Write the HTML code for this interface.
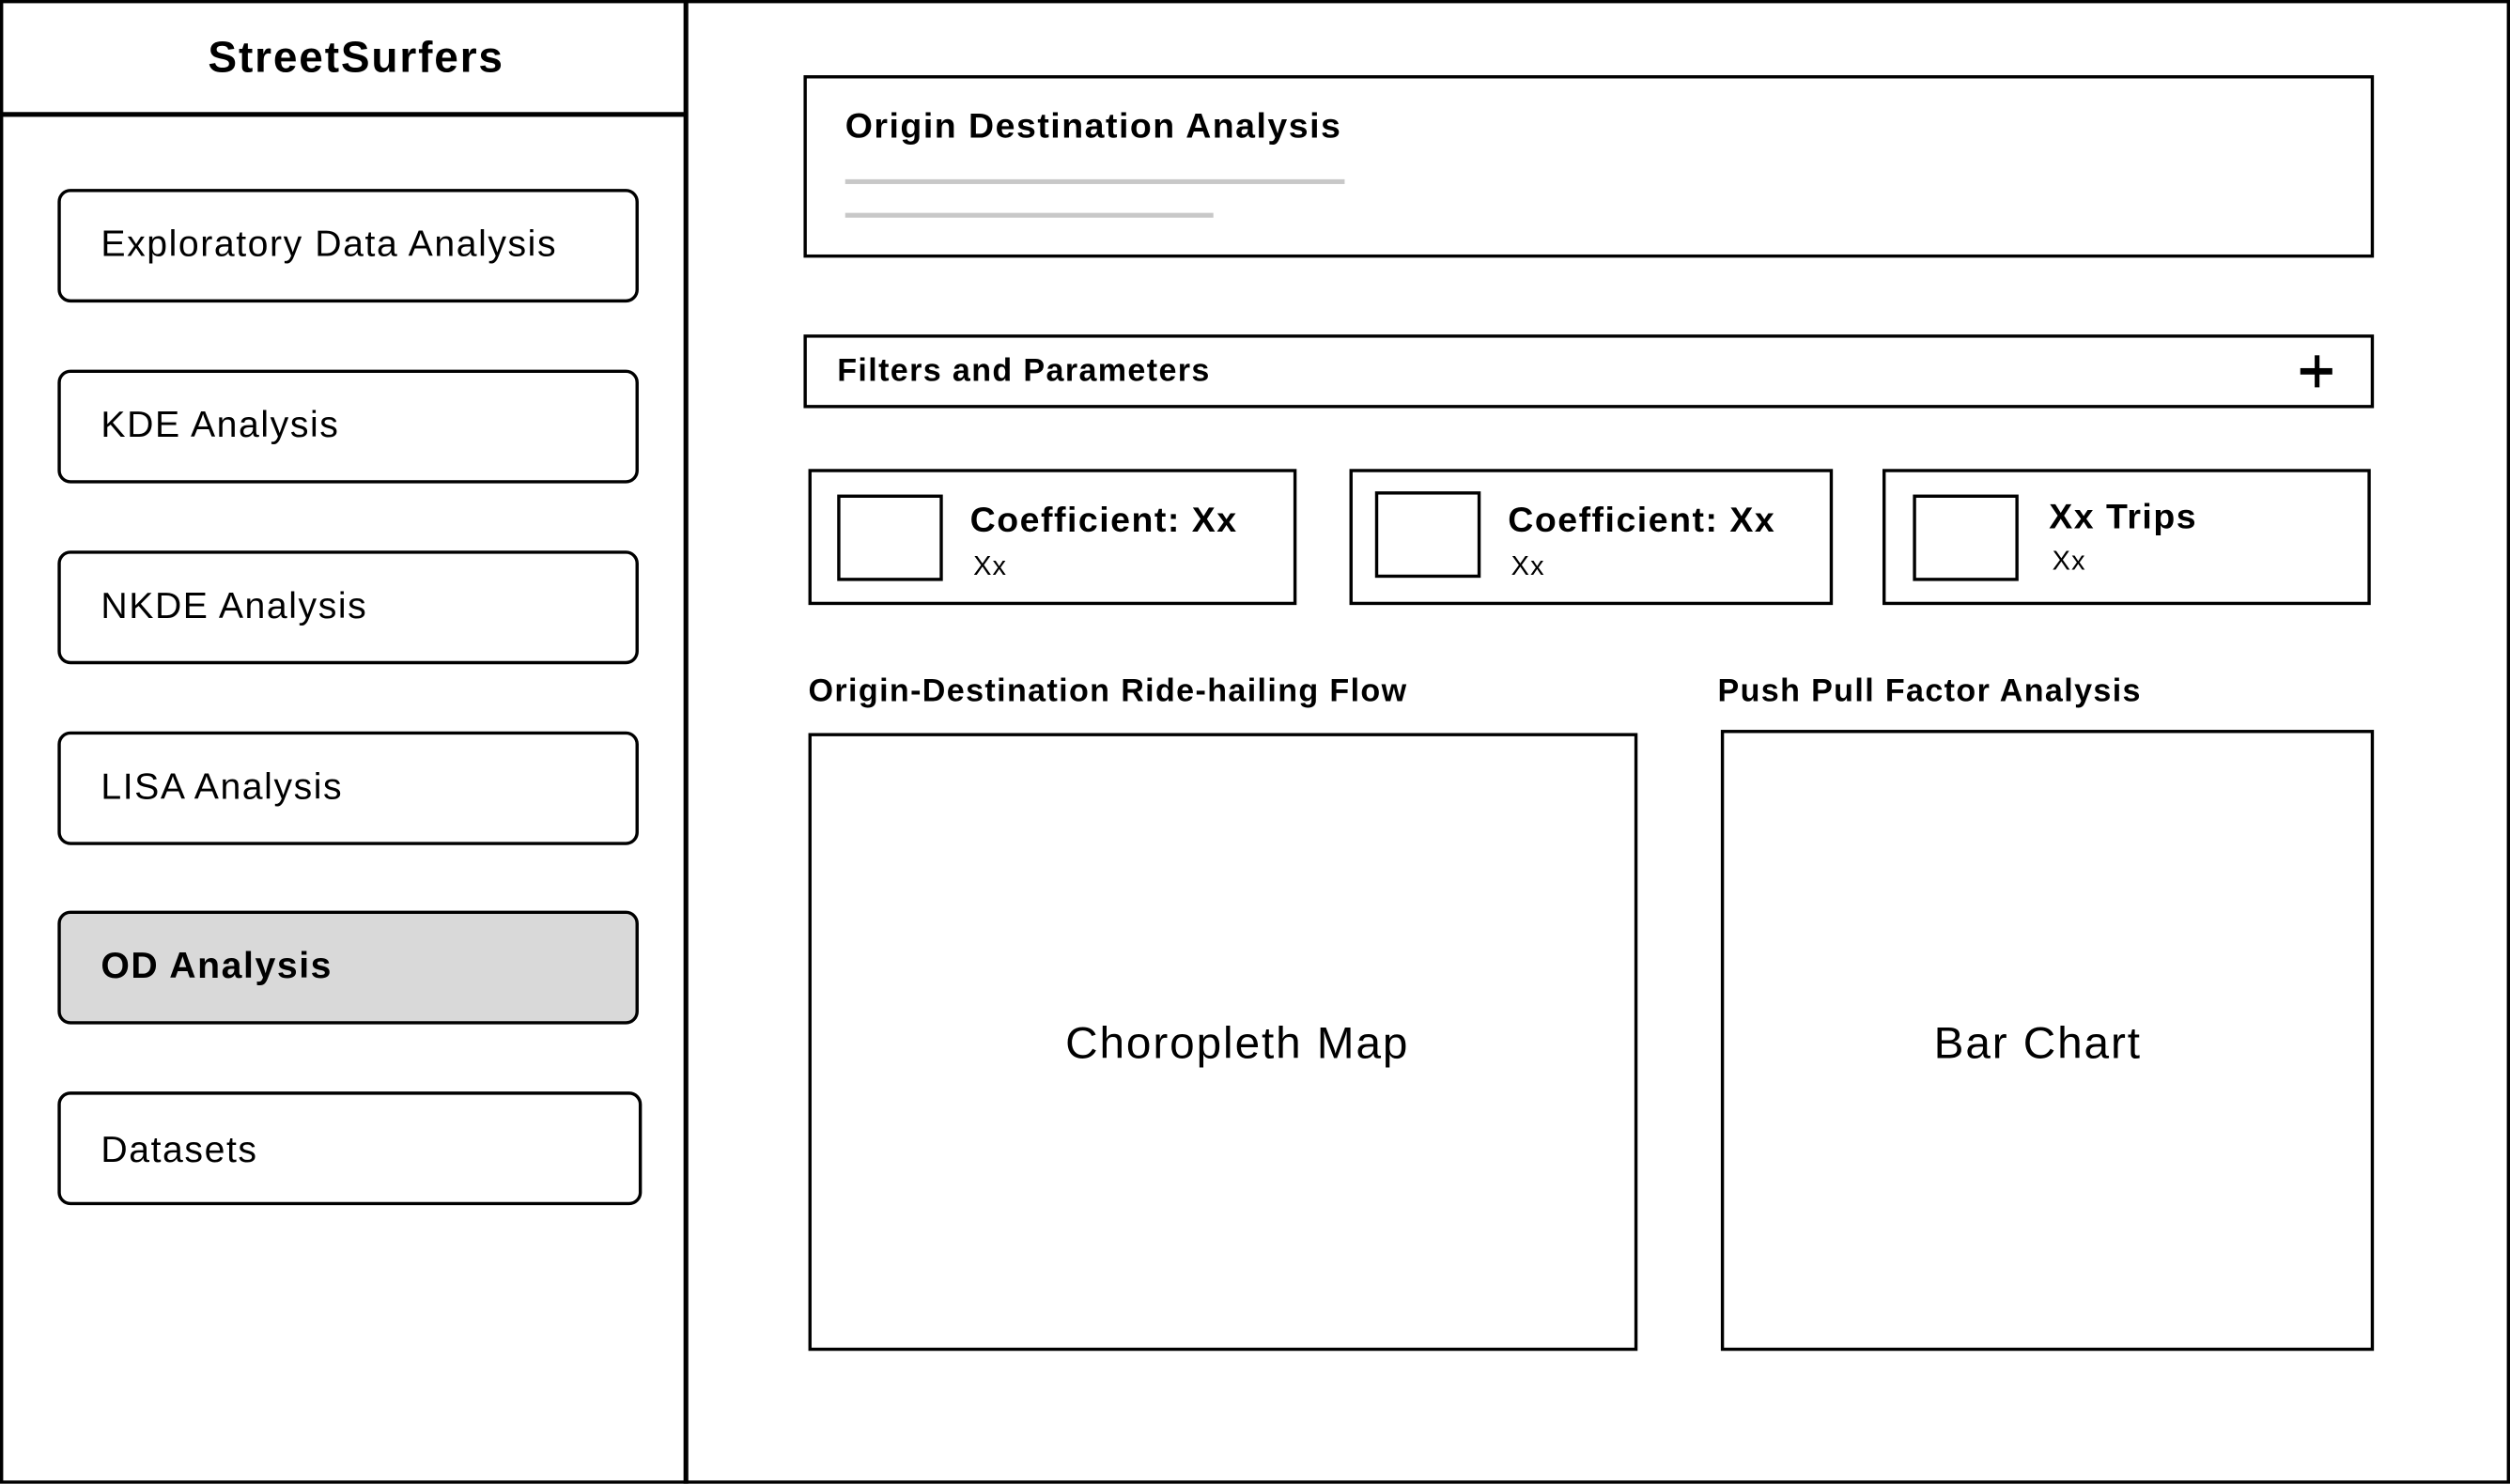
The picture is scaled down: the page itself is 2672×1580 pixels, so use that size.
<!DOCTYPE html>
<html>
<head>
<meta charset="utf-8">
<style>
html,body{margin:0;padding:0;background:#fff;}
body{width:2672px;height:1580px;overflow:hidden;position:relative;}
#w{position:absolute;left:0;top:0;width:1568px;height:927px;transform:scale(1.70408);transform-origin:0 0;font-family:"Liberation Sans",sans-serif;color:#000;}
.a{position:absolute;box-sizing:border-box;}
.b{border:2.5px solid #000;}
.nav{border:2.5px solid #000;border-radius:8px;}
.t{position:absolute;white-space:nowrap;line-height:1;letter-spacing:0.04em;}
</style>
</head>
<body>
<div id="w">
  <div class="a b" style="left:0;top:0;width:1568px;height:927px;"></div>
  <div class="a" style="left:427px;top:0;width:2.5px;height:927px;background:#000;"></div>
  <div class="a" style="left:0;top:70px;width:428px;height:2.5px;background:#000;"></div>
  <div class="t" style="left:0;width:445px;text-align:center;top:23px;font-size:27px;font-weight:bold;">StreetSurfers</div>

  <div class="a nav" style="left:36px;top:118px;width:363px;height:71px;"></div>
  <div class="t" style="left:63px;top:141px;font-size:23px;">Exploratory Data Analysis</div>
  <div class="a nav" style="left:36px;top:231px;width:363px;height:71px;"></div>
  <div class="t" style="left:63px;top:254px;font-size:23px;">KDE Analysis</div>
  <div class="a nav" style="left:36px;top:344px;width:363px;height:71px;"></div>
  <div class="t" style="left:63px;top:367px;font-size:23px;">NKDE Analysis</div>
  <div class="a nav" style="left:36px;top:457px;width:363px;height:71px;"></div>
  <div class="t" style="left:63px;top:480px;font-size:23px;">LISA Analysis</div>
  <div class="a nav" style="left:36px;top:569px;width:363px;height:71px;background:#d9d9d9;"></div>
  <div class="t" style="left:63px;top:592px;font-size:23px;font-weight:bold;">OD Analysis</div>
  <div class="a nav" style="left:36px;top:682px;width:365px;height:71px;"></div>
  <div class="t" style="left:63px;top:707px;font-size:23px;">Datasets</div>

  <div class="a b" style="left:502px;top:47px;width:981px;height:114px;"></div>
  <div class="t" style="left:528px;top:68px;font-size:22px;font-weight:bold;">Origin Destination Analysis</div>
  <div class="a" style="left:528px;top:112px;width:312px;height:2.5px;background:#c8c8c8;"></div>
  <div class="a" style="left:528px;top:133px;width:230px;height:2.5px;background:#c8c8c8;"></div>

  <div class="a b" style="left:502px;top:209px;width:981px;height:46px;"></div>
  <div class="t" style="left:523px;top:222px;font-size:20px;font-weight:bold;">Filters and Parameters</div>
  <div class="a" style="left:1437px;top:230px;width:20px;height:3.5px;background:#000;"></div>
  <div class="a" style="left:1445.5px;top:221.5px;width:3.5px;height:20px;background:#000;"></div>

  <div class="a b" style="left:505px;top:293px;width:305px;height:85px;"></div>
  <div class="a b" style="left:523px;top:309px;width:66px;height:54px;"></div>
  <div class="t" style="left:606px;top:314px;font-size:22px;font-weight:bold;">Coefficient: Xx</div>
  <div class="t" style="left:608px;top:345px;font-size:17px;">Xx</div>

  <div class="a b" style="left:843px;top:293px;width:302px;height:85px;"></div>
  <div class="a b" style="left:859px;top:307px;width:66px;height:54px;"></div>
  <div class="t" style="left:942px;top:314px;font-size:22px;font-weight:bold;">Coefficient: Xx</div>
  <div class="t" style="left:944px;top:345px;font-size:17px;">Xx</div>

  <div class="a b" style="left:1176px;top:293px;width:305px;height:85px;"></div>
  <div class="a b" style="left:1195px;top:309px;width:66px;height:54px;"></div>
  <div class="t" style="left:1280px;top:312px;font-size:22px;font-weight:bold;">Xx Trips</div>
  <div class="t" style="left:1282px;top:342px;font-size:17px;">Xx</div>

  <div class="t" style="left:505px;top:422px;font-size:20px;font-weight:bold;">Origin-Destination Ride-hailing Flow</div>
  <div class="t" style="left:1073px;top:422px;font-size:20px;font-weight:bold;">Push Pull Factor Analysis</div>

  <div class="a b" style="left:505px;top:458px;width:518px;height:386px;"></div>
  <div class="t" style="left:505px;width:536px;text-align:center;top:638px;font-size:28px;">Choropleth Map</div>
  <div class="a b" style="left:1075px;top:456px;width:408px;height:388px;"></div>
  <div class="t" style="left:1075px;width:396px;text-align:center;top:638px;font-size:28px;">Bar Chart</div>
</div>
</body>
</html>
